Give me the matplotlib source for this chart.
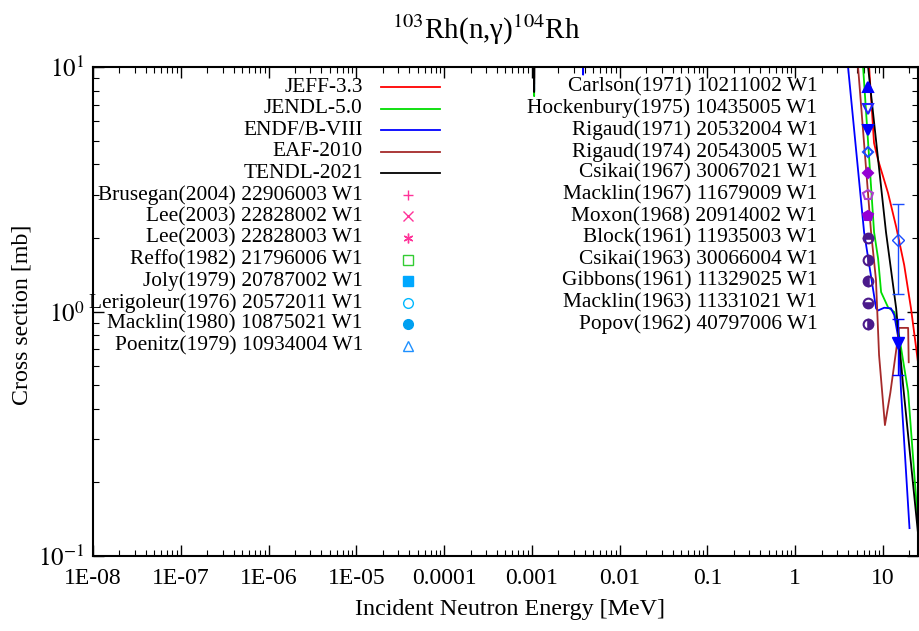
import numpy as np
import matplotlib
matplotlib.use('Agg')
import matplotlib.pyplot as plt
from matplotlib.ticker import LogLocator, NullFormatter
from matplotlib.markers import MarkerStyle

plt.rcParams['font.family'] = ['Liberation Serif', 'DejaVu Serif']
plt.rcParams['mathtext.fontset'] = 'stix'

# evaluated libraries (energy in MeV, cross section in mb)
jeff_e = [1e-8, 1e-3, 1.06e-3, 1.12e-3, 1.0, 6.93, 7.89, 8.77, 11.4, 14.1, 17.4, 20.8, 25.0]
jeff_cs = [2.3e5, 3000, 9.0, 3000, 60, 10.0, 4.89, 4.17, 3.05, 2.22, 1.55, 1.03, 0.62]

jendl_e = [1e-8, 1e-3, 1.06e-3, 1.12e-3, 1.0, 5.92, 7.9, 8.77, 9.5, 11.4, 13.4, 15.2, 19.3, 25.0]
jendl_cs = [2.3e5, 3000, 7.6, 3000, 60, 10.0, 2.11, 1.65, 1.20, 1.04, 0.995, 0.80, 0.469, 0.136]

endf_e = [1e-8, 1e-3, 1.06e-3, 1.12e-3, 3.75e-3, 3.83e-3, 3.9e-3, 1.0, 3.99, 6.08, 8.32, 8.77,
          10.3, 12.3, 13.4, 15.2, 16.0, 20.0]
endf_cs = [2.3e5, 3000, 8.0, 3000, 800, 9.3, 800, 60, 10.0, 2.11, 1.03, 1.01,
           1.036, 1.03, 0.967, 0.75, 0.477, 0.13]

eaf_e = [1e-8, 1e-3, 1.06e-3, 1.12e-3, 1.0, 5.19, 7.3, 8.3, 9.0, 10.5, 12.1, 14.8, 15.2, 19.3, 19.6]
eaf_cs = [2.3e5, 3000, 8.5, 3000, 60, 10.0, 2.11, 1.35, 0.664, 0.343, 0.465, 0.787, 0.857, 0.857, 0.62]

tendl_e = [1e-8, 1e-3, 1.06e-3, 1.12e-3, 1.0, 6.75, 10.8, 14.1, 16.9, 25.0]
tendl_cs = [2.3e5, 3000, 7.9, 3000, 60, 10.0, 2.11, 1.03, 0.5, 0.124]

lib_names = ['JEFF-3.3', 'JENDL-5.0', 'ENDF/B-VIII', 'EAF-2010', 'TENDL-2021']
lib_colors = ['#ff0000', '#00dd00', '#0000ff', '#a52a2a', '#000000']
lib_data = [(jeff_e, jeff_cs), (jendl_e, jendl_cs), (endf_e, endf_cs),
            (eaf_e, eaf_cs), (tendl_e, tendl_cs)]

# experimental points visible in the window
rigaud71_e = [14.8]
rigaud71_cs = [0.74]
rigaud71_err = [0.19]
rigaud74_e = [14.8]
rigaud74_cs = [1.96]
rigaud74_err = [0.78]

# legend entries for experiments: name, marker, colour, fillstyle, size
exp_left = [
    ('Brusegan(2004) 22906003 W1', '+', '#ff3399', 'full', 7),
    ('Lee(2003) 22828002 W1', 'x', '#ff3399', 'full', 7),
    ('Lee(2003) 22828003 W1', (6, 2, 0), '#ff3399', 'full', 7),
    ('Reffo(1982) 21796006 W1', 's', '#33cc33', 'none', 7),
    ('Joly(1979) 20787002 W1', 's', '#00a8ff', 'full', 7),
    ('Lerigoleur(1976) 20572011 W1', 'o', '#00b8ff', 'none', 7),
    ('Macklin(1980) 10875021 W1', 'o', '#00a0f0', 'full', 7),
    ('Poenitz(1979) 10934004 W1', '^', '#1e90ff', 'none', 7),
]
exp_right = [
    ('Carlson(1971) 10211002 W1', '^', '#0000ff', 'full', 7),
    ('Hockenbury(1975) 10435005 W1', 'v', '#2222ff', 'none', 7),
    ('Rigaud(1971) 20532004 W1', 'v', '#0000ff', 'full', 7),
    ('Rigaud(1974) 20543005 W1', 'D', '#1a4cff', 'none', 5.5),
    ('Csikai(1967) 30067021 W1', 'D', '#9400d3', 'full', 5.5),
    ('Macklin(1967) 11679009 W1', 'p', '#b040d0', 'none', 7),
    ('Moxon(1968) 20914002 W1', 'p', '#9400d3', 'full', 7),
    ('Block(1961) 11935003 W1', 'o', '#4b1a8b', 'top', 7),
    ('Csikai(1963) 30066004 W1', 'o', '#4b1a8b', 'right', 7),
    ('Gibbons(1961) 11329025 W1', 'o', '#4b1a8b', 'left', 7),
    ('Macklin(1963) 11331021 W1', 'o', '#4b1a8b', 'bottom', 7),
    ('Popov(1962) 40797006 W1', 'o', '#4b1a8b', 'right', 7),
]

xtick_vals = [1e-8, 1e-7, 1e-6, 1e-5, 1e-4, 1e-3, 1e-2, 1e-1, 1, 10]
xtick_labels = ['1E-08', '1E-07', '1E-06', '1E-05', '0.0001', '0.001', '0.01', '0.1', '1', '10']
ytick_vals = [0.1, 1, 10]
ytick_labels = ['$10^{-1}$', '$10^{0}$', '$10^{1}$']

fig = plt.figure(figsize=(9.2, 6.31), dpi=100)
ax = fig.add_axes([93 / 920, 75 / 631, 825 / 920, 489 / 631])

for (e, cs), c in zip(lib_data, lib_colors):
    ax.plot(e, cs, color=c, lw=1.3)

ax.errorbar(rigaud71_e, rigaud71_cs, yerr=rigaud71_err, fmt='v', color='#0000ff',
            ms=8, capsize=4, elinewidth=1, capthick=1)
ax.errorbar(rigaud74_e, rigaud74_cs, yerr=rigaud74_err, fmt='D', color='#1a4cff',
            mfc='none', ms=6, capsize=4, elinewidth=1, capthick=1)

ax.set_xscale('log')
ax.set_yscale('log')
ax.set_xlim(1e-8, 25)
ax.set_ylim(0.1, 10)
ax.set_xticks(xtick_vals)
ax.set_xticklabels(xtick_labels)
ax.set_yticks(ytick_vals)
ax.set_yticklabels(ytick_labels)
ax.xaxis.set_minor_locator(LogLocator(base=10, subs=np.arange(2, 10), numticks=100))
ax.yaxis.set_minor_locator(LogLocator(base=10, subs=np.arange(2, 10), numticks=100))
ax.xaxis.set_minor_formatter(NullFormatter())
ax.yaxis.set_minor_formatter(NullFormatter())
ax.tick_params(which='both', direction='in', top=True, right=True)
ax.tick_params(axis='x', labelsize=17, pad=9)
ax.tick_params(axis='y', labelsize=18, pad=6)
ax.tick_params(which='major', length=8, width=1)
ax.tick_params(which='minor', length=4, width=0.8)
for s in ax.spines.values():
    s.set_linewidth(1.5)

# legend drawn like gnuplot: text right aligned, sample to its right
y0 = 0.959
dy = 0.0441
row = 0
for name, c in zip(lib_names, lib_colors):
    y = y0 - row * dy
    ax.text(0.327, y, name, transform=ax.transAxes, ha='right', va='center', fontsize=15.4)
    ax.plot([0.349, 0.421], [y, y], color=c, lw=1.3, transform=ax.transAxes, clip_on=False)
    row += 1
for name, m, c, fs, ms in exp_left:
    y = y0 - row * dy
    ax.text(0.327, y, name, transform=ax.transAxes, ha='right', va='center', fontsize=15.4)
    ax.plot([0.382], [y], marker=MarkerStyle(m, fillstyle=fs), color=c, ms=ms, mew=1,
            transform=ax.transAxes, clip_on=False)
    row += 1
for i, (name, m, c, fs, ms) in enumerate(exp_right):
    y = y0 - i * dy
    ax.text(0.878, y, name, transform=ax.transAxes, ha='right', va='center', fontsize=15.4)
    ax.plot([0.939], [y], marker=MarkerStyle(m, fillstyle=fs), color=c,
            mfc=c if fs != 'none' else 'none', ms=ms, mew=1.5,
            transform=ax.transAxes, clip_on=False)

fig.text(486 / 920, 1 - 30 / 631, '$^{103}$Rh(n,γ)$^{104}$Rh', ha='center', va='center', fontsize=21)
fig.text(510 / 920, 1 - 609 / 631, 'Incident Neutron Energy [MeV]', ha='center', va='center', fontsize=17.3)
fig.text(22 / 920, 1 - 315 / 631, 'Cross section [mb]', ha='center', va='center', rotation=90, fontsize=17.2)

fig.savefig('out.png', dpi=100)
